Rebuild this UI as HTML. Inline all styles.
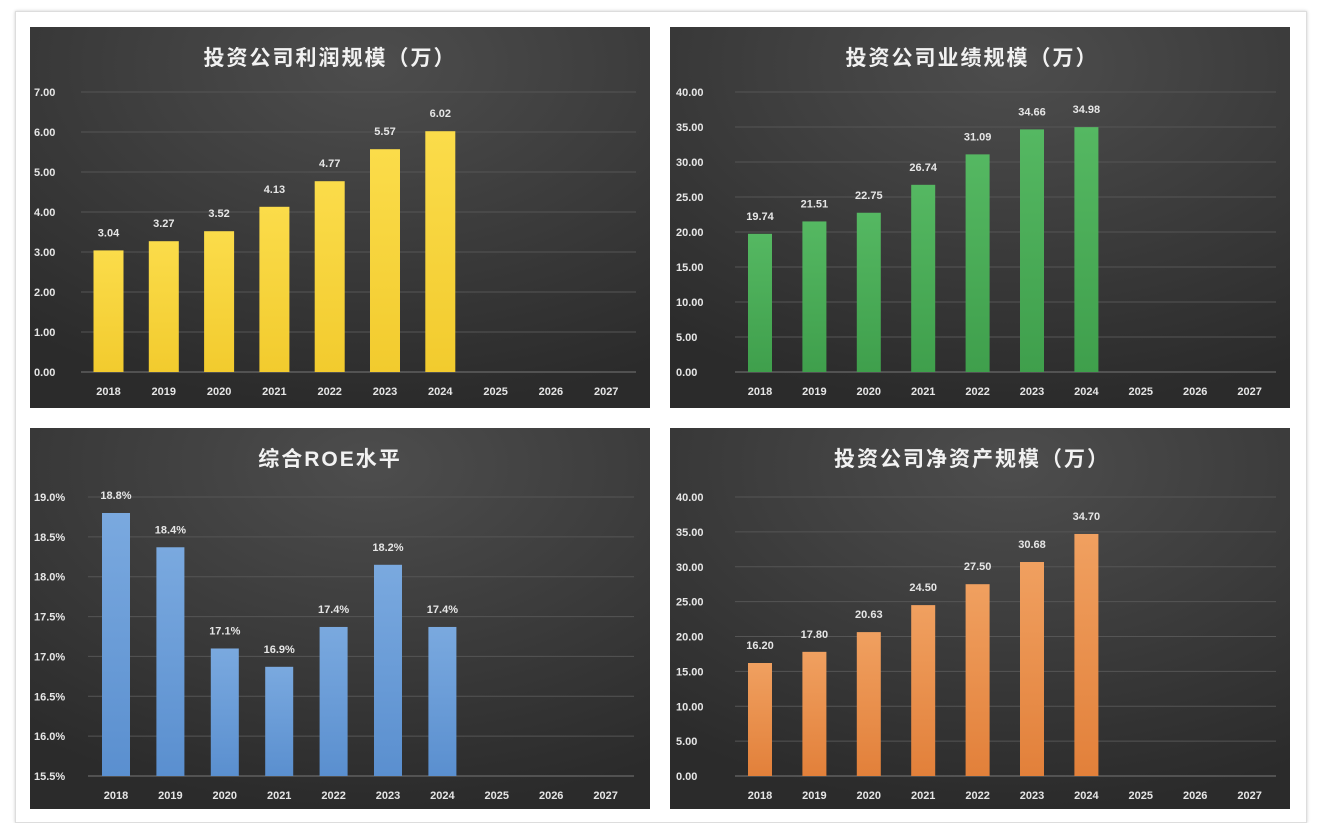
<!DOCTYPE html>
<html><head><meta charset="utf-8">
<style>
html,body{margin:0;padding:0;background:#fff;}
body{width:1324px;height:812px;overflow:hidden;position:relative;}
#card{position:absolute;left:15px;top:11px;width:1290px;height:810px;border:1px solid #ddd;box-shadow:0 0 3px #ccc;background:#fff;}
svg{position:absolute;left:0;top:0;}
text{font-family:"Liberation Sans","Noto Sans CJK SC",sans-serif;font-weight:bold;}
</style></head><body>
<div id="card"></div>
<svg id="s" width="1324" height="812" xmlns="http://www.w3.org/2000/svg">
<defs>
<radialGradient id="bg" cx="0.55" cy="0.1" r="0.9">
<stop offset="0" stop-color="#4d4d4d"/><stop offset="1" stop-color="#2b2b2b"/></radialGradient>
<linearGradient id="gy" x1="0" y1="0" x2="0" y2="1"><stop offset="0" stop-color="#fbdc4a"/><stop offset="1" stop-color="#f2cb2e"/></linearGradient>
<linearGradient id="gg" x1="0" y1="0" x2="0" y2="1"><stop offset="0" stop-color="#55b862"/><stop offset="1" stop-color="#3f9f4c"/></linearGradient>
<linearGradient id="gb" x1="0" y1="0" x2="0" y2="1"><stop offset="0" stop-color="#7aa9df"/><stop offset="1" stop-color="#5a8fcf"/></linearGradient>
<linearGradient id="go" x1="0" y1="0" x2="0" y2="1"><stop offset="0" stop-color="#f0a060"/><stop offset="1" stop-color="#e2803a"/></linearGradient>
</defs>
</svg>
<script>
const s=document.getElementById('s');
function el(t,a,txt){const e=document.createElementNS('http://www.w3.org/2000/svg',t);for(const k in a)e.setAttribute(k,a[k]);if(txt!==undefined)e.textContent=txt;s.appendChild(e);return e;}
const yrs=[2018,2019,2020,2021,2022,2023,2024,2025,2026,2027];
function chart(o){
 el('rect',{x:o.x,y:o.y,width:o.w,height:o.h,fill:'url(#bg)'});
 el('text',{x:o.tx,y:o.y+38,fill:'#f2f2f2','font-size':21,'letter-spacing':2,'text-anchor':'middle'},o.title);
 for(let i=0;i<o.ticks.length;i++){
  const yy=o.y0+(o.y1-o.y0)*i/(o.ticks.length-1);
  el('line',{x1:o.gx0,x2:o.gx1,y1:yy,y2:yy,stroke:i==0?'#777':'#555','stroke-width':1});
  el('text',{x:o.lx,y:yy+4,fill:'#e6e6e6','font-size':11},o.ticks[i]);
 }
 yrs.forEach((yr,i)=>{
  const cx=o.c0+o.dc*i;
  el('text',{x:cx,y:o.y0+23,fill:'#e6e6e6','font-size':11,'text-anchor':'middle'},yr);
  if(i<o.vals.length){
   const v=o.vals[i];const top=o.y0-(v-o.base)*o.k;
   el('rect',{x:cx-o.bw/2,y:top,width:o.bw,height:o.y0-top,fill:o.fill});
   el('text',{x:cx,y:top-14,fill:'#e6e6e6','font-size':11,'text-anchor':'middle'},o.lab[i]);
  }
 });
}
const f2=a=>a.map(v=>v.toFixed(2));
let v1=[3.04,3.27,3.52,4.13,4.77,5.57,6.02];
chart({x:30,y:27,w:620,h:381,tx:330,title:'投资公司利润规模（万）',y0:372,y1:92,gx0:81,gx1:636,lx:34,
 ticks:['0.00','1.00','2.00','3.00','4.00','5.00','6.00','7.00'],c0:108.5,dc:55.3,bw:30,base:0,k:40,vals:v1,lab:f2(v1),fill:'url(#gy)'});
let v2=[19.74,21.51,22.75,26.74,31.09,34.66,34.98];
chart({x:670,y:27,w:620,h:381,tx:972,title:'投资公司业绩规模（万）',y0:372,y1:92,gx0:735,gx1:1276,lx:676,
 ticks:['0.00','5.00','10.00','15.00','20.00','25.00','30.00','35.00','40.00'],c0:760,dc:54.4,bw:24,base:0,k:7,vals:v2,lab:f2(v2),fill:'url(#gg)'});
let v3=[18.8,18.37,17.1,16.87,17.37,18.15,17.37];
chart({x:30,y:428,w:620,h:381,tx:330,title:'综合ROE水平',y0:776,y1:497,gx0:88,gx1:634,lx:34,
 ticks:['15.5%','16.0%','16.5%','17.0%','17.5%','18.0%','18.5%','19.0%'],c0:116,dc:54.4,bw:28,base:15.5,k:79.7,vals:v3,lab:['18.8%','18.4%','17.1%','16.9%','17.4%','18.2%','17.4%'],fill:'url(#gb)'});
let v4=[16.20,17.80,20.63,24.50,27.50,30.68,34.70];
chart({x:670,y:428,w:620,h:381,tx:972,title:'投资公司净资产规模（万）',y0:776,y1:497,gx0:735,gx1:1276,lx:676,
 ticks:['0.00','5.00','10.00','15.00','20.00','25.00','30.00','35.00','40.00'],c0:760,dc:54.4,bw:24,base:0,k:6.975,vals:v4,lab:f2(v4),fill:'url(#go)'});
</script>
</body></html>
